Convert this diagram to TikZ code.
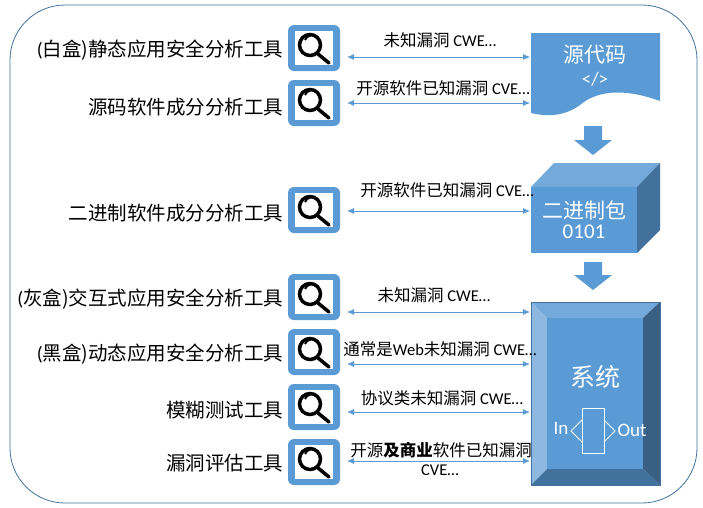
\documentclass[tikz,border=0pt]{standalone}
\usepackage{fontspec}
\setmainfont{Carlito}
\newfontfamily\cjk{Noto Sans CJK SC}
\usetikzlibrary{arrows.meta}
\definecolor{bl}{HTML}{5B9BD5}
\definecolor{bld}{HTML}{41719C}
\definecolor{bll}{HTML}{8FB8E0}
\definecolor{bldd}{HTML}{3A5F85}
\begin{document}
\begin{tikzpicture}[x=1pt,y=-1pt,
  lab/.style={anchor=east,font=\fontsize{19.5}{21}\selectfont},
  alab/.style={font=\fontsize{16.5}{18}\selectfont},
  con/.style={draw=bl,line width=0.8pt,{Latex[length=7pt,width=6pt]}-{Latex[length=7pt,width=6pt]}},
  wt/.style={text=white,font=\fontsize{21}{23}\selectfont}]
\useasboundingbox (0,0) rectangle (703,507);
\draw[bld,line width=0.8pt,rounded corners=55] (10,5) rectangle (697,503);
\newcommand\icon[2]{%
  \coordinate (#1) at (314,#2);
  \fill[bl,rounded corners=6] (288,#2-23) rectangle (340,#2+23);
  \fill[white] (295,#2-17) rectangle (333,#2+17);
  \draw[black,line width=3.5pt] (310,#2-3) circle (10.5);
  \draw[black,line width=2pt] (305,#2-8) arc (200:260:7);
  \draw[black,line width=3.5pt,line cap=round] (318,#2+6) -- (329,#2+15);
  \coordinate (#1r) at (345,#2);}
\icon{i1}{48}\icon{i2}{103}\icon{i3}{210}\icon{i4}{297}\icon{i5}{352}\icon{i6}{407}\icon{i7}{462}
\node[lab] (l1) at (287,50) {(\cjk 白盒)静态应用安全分析工具};
\node[lab] (l2) at (287,107) {\cjk 源码软件成分分析工具};
\node[lab] (l3) at (287,213) {\cjk 二进制软件成分分析工具};
\node[lab] (l4) at (287,299) {(\cjk 灰盒)交互式应用安全分析工具};
\node[lab] (l5) at (287,354) {(\cjk 黑盒)动态应用安全分析工具};
\node[lab] (l6) at (287,410) {\cjk 模糊测试工具};
\node[lab] (l7) at (287,463) {\cjk 漏洞评估工具};
% right side
\fill[bl] (531,33) -- (660,33) -- (660,101) .. controls (630,90) and (600,88) .. (580,105) .. controls (565,116) and (548,117) .. (531,113) -- cycle;
\node[wt] (src) at (595,55) {\cjk 源代码};
\node[wt,font=\fontsize{19}{21}\selectfont] (srct) at (595,79) {</>};
\fill[bl] (584,126) -- (602,126) -- (602,140) -- (612,140) -- (593,155) -- (574,140) -- (584,140) -- cycle;
\fill[bl!85!white] (531,187) -- (554,163) -- (660,163) -- (637,187) -- cycle;
\fill[bld] (637,187) -- (660,163) -- (660,230) -- (637,253) -- cycle;
\fill[bl] (531,187) rectangle (637,253);
\node[wt] (bin) at (584,210) {\cjk 二进制包};
\node[wt] (bint) at (584,232) {0101};
\fill[bl] (584,262) -- (602,262) -- (602,275) -- (612,275) -- (593,290) -- (574,275) -- (584,275) -- cycle;
\fill[bll] (531,302) -- (547,318) -- (547,469) -- (531,485) -- cycle;
\fill[bl!85!white] (531,302) -- (660,302) -- (643,318) -- (547,318) -- cycle;
\fill[bldd] (660,302) -- (660,485) -- (643,469) -- (643,318) -- cycle;
\fill[bld] (531,485) -- (660,485) -- (643,469) -- (547,469) -- cycle;
\draw[bld,line width=0.6pt] (531,302) rectangle (660,485);
\fill[bl] (547,318) rectangle (643,469);
\node[wt,font=\fontsize{25}{27}\selectfont] (sys) at (595,377) {\cjk 系统};
\draw[white,line width=0.8pt] (582,408) rectangle (604,453);
\draw[white,line width=0.8pt] (582,420) -- (571,431) -- (582,442);
\draw[white,line width=0.8pt] (604,420) -- (615,431) -- (604,442);
\node[text=white,font=\fontsize{19}{21}\selectfont] (in) at (561,428) {In};
\node[text=white,font=\fontsize{19}{21}\selectfont] (out) at (632,430) {Out};
\coordinate (t1) at (530,57);\coordinate (t2) at (530,103);\coordinate (t3) at (530,211);
\coordinate (t4) at (530,312);\coordinate (t5) at (530,364);\coordinate (t6) at (530,412);\coordinate (t7) at (530,461);
\draw[con] (347,57) -- (t1);
\draw[con] (347,103) -- (t2);
\draw[con] (347,211) -- (t3);
\draw[con] (347,312) -- (t4);
\draw[con] (347,364) -- (t5);
\draw[con] (347,412) -- (t6);
\draw[con] (347,461) -- (t7);
\node[alab] (a1) at (440,40) {\cjk 未知漏洞 \normalfont CWE…};
\node[alab] (a2) at (443,88) {\cjk 开源软件已知漏洞 \normalfont CVE…};
\node[alab] (a3) at (447,190) {\cjk 开源软件已知漏洞 \normalfont CVE…};
\node[alab] (a4) at (434,295) {\cjk 未知漏洞 \normalfont CWE…};
\node[alab] (a5) at (440,349) {\cjk 通常是\normalfont Web\cjk 未知漏洞 \normalfont CWE…};
\node[alab] (a6) at (442,398) {\cjk 协议类未知漏洞 \normalfont CWE…};
\node[alab] (a7) at (441,450) {\cjk 开源\textbf{及商业}软件已知漏洞};
\node[alab] (a7b) at (440,470) {CVE…};
\end{tikzpicture}
\end{document}
